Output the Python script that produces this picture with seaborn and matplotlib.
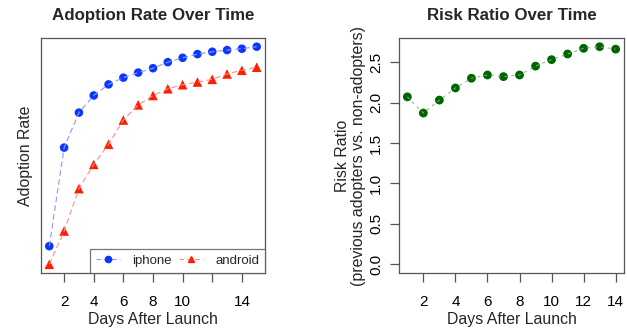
import numpy as np
import pandas as pd
import seaborn as sns
import matplotlib
matplotlib.use('Agg')
import matplotlib.pyplot as plt
from matplotlib.lines import Line2D

sns.set_theme(style='white')
plt.rcParams['font.family'] = ['Liberation Sans', 'DejaVu Sans']

# Data
days_adopt = list(range(1, 16))
iphone = [0.067, 0.360, 0.464, 0.515, 0.548, 0.568, 0.583, 0.596,
          0.614, 0.627, 0.638, 0.645, 0.650, 0.654, 0.660]
android = [0.013, 0.112, 0.238, 0.310, 0.370, 0.442, 0.487, 0.515,
           0.535, 0.547, 0.555, 0.563, 0.579, 0.590, 0.599]

days_risk = list(range(1, 15))
risk_ratio = [2.07, 1.87, 2.03, 2.18, 2.30, 2.34, 2.32, 2.34,
              2.45, 2.53, 2.60, 2.67, 2.69, 2.66]

adopt = pd.DataFrame({
    'day': days_adopt * 2,
    'rate': iphone + android,
    'phone': ['iphone'] * len(iphone) + ['android'] * len(android),
})
risk = pd.DataFrame({'day': days_risk, 'ratio': risk_ratio})

blue, red, green = '#0a36ff', '#ff1f00', '#006400'
box_col = '#555555'

fig = plt.figure(figsize=(6.27, 3.30), dpi=100)
ax1 = fig.add_axes([41 / 627, 1 - 273 / 330, 224 / 627, 235 / 330])
ax2 = fig.add_axes([399 / 627, 1 - 273 / 330, 225 / 627, 235 / 330])


def r_limits(vals):
    lo, hi = min(vals), max(vals)
    pad = 0.04 * (hi - lo)
    return lo - pad, hi + pad


# --- left: adoption rate
sns.lineplot(data=adopt, x='day', y='rate', hue='phone',
             palette={'iphone': '#8c98ff', 'android': '#ff8c8c'},
             lw=0.8, ax=ax1, legend=False)
for l in ax1.lines:
    l.set_dashes([5, 3])
sns.scatterplot(data=adopt[adopt.phone == 'iphone'], x='day', y='rate',
                color=blue, marker='o', s=38, edgecolor='none', ax=ax1,
                legend=False)
sns.scatterplot(data=adopt[adopt.phone == 'android'], x='day', y='rate',
                color=red, marker='^', s=48, edgecolor='none', ax=ax1,
                legend=False)
ax1.set_xlim(*r_limits(days_adopt))
ax1.set_ylim(*r_limits(iphone + android))
ax1.set_xticks([2, 4, 6, 8, 10, 12, 14])
ax1.set_xticklabels(['2', '4', '6', '8', '10', '', '14'])
ax1.set_yticks([])
ax1.set_title('Adoption Rate Over Time', fontsize=12.2, fontweight='bold', pad=13)
ax1.set_xlabel('Days After Launch', fontsize=11.4, labelpad=2.5)
ax1.set_ylabel('Adoption Rate', fontsize=11.4, labelpad=6)

handles = [
    Line2D([], [], color='#8c98ff', ls=(0, (4, 3)), lw=0.8, marker='o',
           markersize=4.5, markerfacecolor=blue, markeredgecolor=blue),
    Line2D([], [], color='#ff8c8c', ls=(0, (4, 3)), lw=0.8, marker='^',
           markersize=5, markerfacecolor=red, markeredgecolor=red),
]
leg = ax1.legend(handles, ['iphone', 'android'], ncol=2, loc='lower right',
                 bbox_to_anchor=(1.0, 0.0), fontsize=9.5, frameon=True,
                 fancybox=False, borderaxespad=0, handlelength=1.8,
                 columnspacing=0.6, handletextpad=0.9, borderpad=0.45)
leg.get_frame().set_edgecolor(box_col)
leg.get_frame().set_linewidth(0.9)

# --- right: risk ratio
sns.lineplot(data=risk, x='day', y='ratio', color='#77bb77', lw=0.7, ax=ax2)
ax2.lines[0].set_dashes([3, 4])
sns.scatterplot(data=risk, x='day', y='ratio', color=green, s=40,
                edgecolor='none', ax=ax2)
ax2.set_xlim(*r_limits(days_risk))
ax2.set_ylim(*r_limits([0] + risk_ratio))
ax2.set_xticks([2, 4, 6, 8, 10, 12, 14])
ax2.set_yticks([0, 0.5, 1.0, 1.5, 2.0, 2.5])
ax2.set_yticklabels(['0.0', '0.5', '1.0', '1.5', '2.0', '2.5'],
                    rotation=90, va='center')
ax2.set_title('Risk Ratio Over Time', fontsize=12.2, fontweight='bold', pad=13)
ax2.set_xlabel('Days After Launch', fontsize=11.4, labelpad=2.5)
ax2.set_ylabel('Risk Ratio\n(previous adopters vs. non-adopters)',
               fontsize=11.4, labelpad=2, linespacing=1.1)

for ax in (ax1, ax2):
    for sp in ax.spines.values():
        sp.set_color(box_col)
        sp.set_linewidth(0.9)
    ax.tick_params(axis='both', which='both', length=6.5, width=0.9,
                   color=box_col, labelsize=11, labelcolor='black',
                   direction='out', bottom=True, left=True)
    ax.tick_params(axis='x', pad=9)
    ax.tick_params(axis='y', pad=5)
ax1.tick_params(axis='y', left=False)

fig.savefig('out.png', dpi=100)
